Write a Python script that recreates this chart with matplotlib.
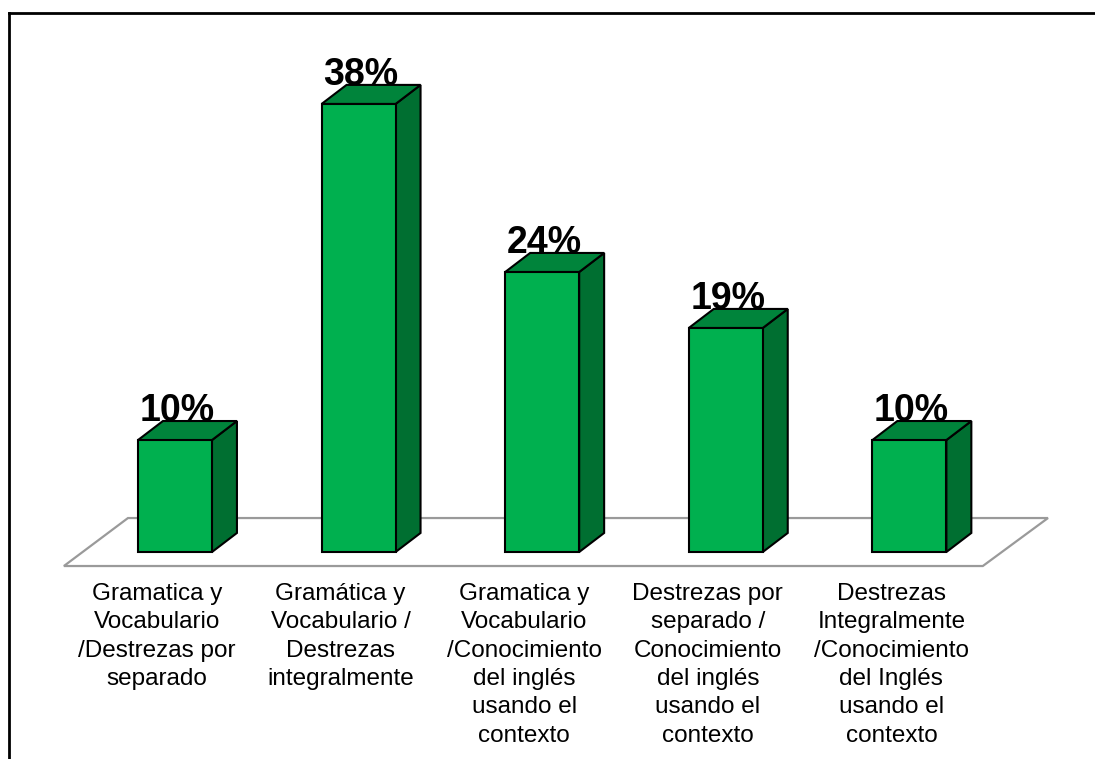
#!/usr/bin/env python

import matplotlib
matplotlib.use('Agg')
import matplotlib.pyplot as plt
from matplotlib.patches import Polygon
from matplotlib.lines import Line2D

# data (21 respondents -> 2, 8, 5, 4, 2)
categories = [
	"Gramatica y\nVocabulario\n/Destrezas por\nseparado",
	"Gramática y\nVocabulario /\nDestrezas\nintegralmente",
	"Gramatica y\nVocabulario\n/Conocimiento\ndel inglés\nusando el\ncontexto",
	"Destrezas por\nseparado /\nConocimiento\ndel inglés\nusando el\ncontexto",
	"Destrezas\nIntegralmente\n/Conocimiento\ndel Inglés\nusando el\ncontexto",
]
percentages = [9.52, 38.10, 23.81, 19.05, 9.52]

FRONT = '#00B04F'
TOP = '#00843B'
SIDE = '#006F31'


def draw_bar(ax, x, v, half_w, dx, dy):
	""" Draws one pseudo-3D bar: front face, right side and top

	"""
	front = [(x - half_w, 0), (x + half_w, 0), (x + half_w, v), (x - half_w, v)]
	side = [(x + half_w, 0), (x + half_w + dx, dy), (x + half_w + dx, v + dy), (x + half_w, v)]
	top = [(x - half_w, v), (x + half_w, v), (x + half_w + dx, v + dy), (x - half_w + dx, v + dy)]
	for verts, col in ((side, SIDE), (top, TOP), (front, FRONT)):
		ax.add_patch(Polygon(verts, closed=True, facecolor=col, edgecolor='black',
							 lw=1.5, joinstyle='miter', zorder=3))


def main():
	plt.rcParams['font.family'] = ['Liberation Sans', 'DejaVu Sans']

	fig = plt.figure(figsize=(10.95, 7.59), dpi=100)
	ax = fig.add_axes([0, 0, 1, 1])
	ax.set_xlim(-0.953, 5.011)
	ax.set_ylim(-17.6, 46.94)
	ax.axis('off')

	half_w = 0.2015
	dx, dy = 0.136, 1.62

	#floor
	n = len(percentages)
	floor = [(-0.605, -1.19), (n - 0.6, -1.19), (n - 0.245, 2.89), (-0.256, 2.89)]
	ax.add_patch(Polygon(floor, closed=True, facecolor='white', edgecolor='#9a9a9a',
						 lw=1.6, zorder=1))

	for i, v in enumerate(percentages):
		draw_bar(ax, i, v, half_w, dx, dy)
		ax.text(i + 0.012, v + dy, f"{v:.0f}%", ha='center', va='baseline',
				fontsize=27, fontweight='bold', zorder=4)
		ax.text(i - 0.098, -2.62, categories[i], ha='center', va='top',
				fontsize=17.5, linespacing=1.375, zorder=4)

	#frame lines (top and left only)
	fig.add_artist(Line2D([0.0085, 1.0], [1 - 13 / 759, 1 - 13 / 759], color='black', lw=2))
	fig.add_artist(Line2D([0.0085, 0.0085], [0.0, 1 - 13 / 759], color='black', lw=2))

	fig.savefig('out.png', dpi=100)


if __name__ == '__main__':
	main()
